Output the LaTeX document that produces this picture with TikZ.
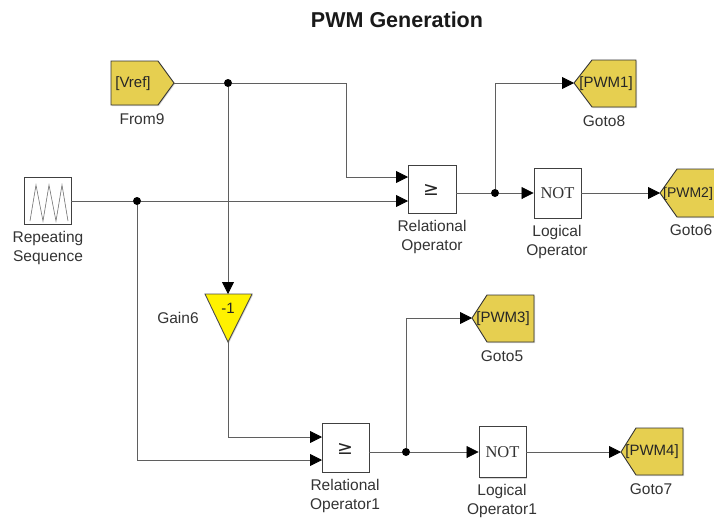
\documentclass[tikz,border=0pt]{standalone}
\usepackage{fontspec}
\setmainfont{Liberation Sans}
\newfontfamily\notfont{Liberation Serif}
\newfontfamily\symfont{DejaVu Sans}
\usetikzlibrary{arrows.meta, shadows}
\definecolor{tagyellow}{RGB}{230,207,80}
\definecolor{wiregray}{RGB}{95,95,95}
\tikzset{
  wire/.style={draw=wiregray, line width=0.8pt},
  feed/.style={wire, -{Triangle[length=12pt, width=12pt, black]}},
  dot/.style={circle, fill=black, inner sep=0pt, minimum size=8pt},
  block/.style={draw=black!75, fill=white, line width=0.9pt, inner sep=0pt,
    drop shadow={shadow xshift=1pt, shadow yshift=-1pt, fill=black!30}},
  tagshape/.style={draw=black!80, fill=tagyellow, line width=0.9pt,
    drop shadow={shadow xshift=1pt, shadow yshift=-1pt, fill=black!30}},
  tagtext/.style={font=\fontsize{15}{15}\selectfont, text=black!85, inner sep=0pt},
  caption/.style={font=\fontsize{15.5}{19}\selectfont, text=black!80, align=center, inner sep=0pt},
  notblock/.style={block, font=\fontsize{16.5}{16.5}\selectfont\notfont, text=black!80},
  relsign/.style={font=\fontsize{19}{19}\selectfont\symfont, text=black!85, inner sep=0pt}
}
\begin{document}
\begin{tikzpicture}[x=1pt, y=-1pt]
  \useasboundingbox (0,0) rectangle (714,517);
  \clip (0,0) rectangle (714,517);

  \node[font=\bfseries\fontsize{21.5}{22}\selectfont, text=black!90] (title) at (397,20) {PWM Generation};

  % tags
  \draw[tagshape] (111,61) -- (158,61) -- (174,83) -- (158,105) -- (111,105) -- cycle;
  \coordinate (vrefout) at (174,83);
  \node[tagtext] (vref) at (133,84) {[Vref]};
  \node[caption] (from9) at (142,119) {From9};

  \draw[tagshape] (574,83) -- (592,60) -- (636,60) -- (636,107) -- (592,107) -- cycle;
  \coordinate (pwm1in) at (574,83);
  \node[tagtext] (pwm1) at (606,84) {[PWM1]};
  \node[caption] (goto8) at (604,121) {Goto8};

  \draw[tagshape] (660,193) -- (677,169) -- (725,169) -- (725,217) -- (677,217) -- cycle;
  \coordinate (pwm2in) at (660,193);
  \node[tagtext, font=\fontsize{14}{14}\selectfont] (pwm2) at (688,194) {[PWM2]};
  \node[caption] (goto6) at (691,230) {Goto6};

  \draw[tagshape] (472,318) -- (487,295) -- (534,295) -- (534,342) -- (487,342) -- cycle;
  \coordinate (pwm3in) at (472,318);
  \node[tagtext] (pwm3) at (503,319) {[PWM3]};
  \node[caption] (goto5) at (502,356) {Goto5};

  \draw[tagshape] (621,452) -- (636,428) -- (683,428) -- (683,475) -- (636,475) -- cycle;
  \coordinate (pwm4in) at (621,452);
  \node[tagtext] (pwm4) at (652,452) {[PWM4]};
  \node[caption] (goto7) at (651,489) {Goto7};

  % blocks
  \node[block, minimum width=47pt, minimum height=47pt] (rep) at (47.5,200.5) {};
  \draw[black!55, line width=0.6pt] (30,221) -- (36,185) -- (43,221) -- (49,185) -- (56,221) -- (62,185) -- (68,221);
  \node[caption] (repname) at (48,248) {Repeating\\Sequence};

  \node[block, minimum width=48pt, minimum height=48pt] (relop) at (432,189) {};
  \node[relsign] (relsym) at (431,190) {≥};
  \node[caption] (relname) at (432,237) {Relational\\Operator};

  \node[notblock, minimum width=47pt, minimum height=50pt] (notop) at (557.5,193) {NOT};
  \node[caption] (notname) at (557,242) {Logical\\Operator};

  \node[block, minimum width=47pt, minimum height=49pt] (relop1) at (345.5,447.5) {};
  \node[relsign] (rel1sym) at (345,449) {≥};
  \node[caption] (rel1name) at (345,496) {Relational\\Operator1};

  \node[notblock, minimum width=47pt, minimum height=51pt] (notop1) at (502.5,452) {NOT};
  \node[caption] (not1name) at (502,501) {Logical\\Operator1};

  % gain
  \draw[draw=black!70, fill=yellow, line width=0.9pt, drop shadow={shadow xshift=1pt, shadow yshift=-1pt, fill=black!30}]
    (205,294) -- (252,294) -- (228,342) -- cycle;
  \coordinate (gainin) at (228,294);
  \coordinate (gainout) at (228,342);
  \node[tagtext] (gainval) at (228,308) {-1};
  \node[caption] (gainname) at (178,318) {Gain6};

  % junctions
  \node[dot] (j1) at (228,83) {};
  \node[dot] (j2) at (137,201) {};
  \node[dot] (j3) at (495,193) {};
  \node[dot] (j4) at (406,452) {};

  % wires
  \coordinate (relin1) at (408,177);
  \coordinate (relin2) at (408,201);
  \coordinate (rel1in1) at (322,437);
  \coordinate (rel1in2) at (322,460);
  \draw[wire] (vrefout) -- (j1);
  \draw[feed] (j1) -| (346,177) -- (relin1);
  \draw[feed] (j1) -- (gainin);
  \draw[wire] (rep.east |- j2) -- (j2);
  \draw[feed] (j2) -- (relin2);
  \draw[feed] (j2) |- (rel1in2);
  \draw[feed] (gainout) |- (rel1in1);
  \draw[wire] (relop.east |- j3) -- (j3);
  \draw[feed] (j3) |- (pwm1in);
  \draw[feed] (j3) -- (notop.west);
  \draw[feed] (notop.east) -- (pwm2in);
  \draw[wire] (relop1.east |- j4) -- (j4);
  \draw[feed] (j4) |- (pwm3in);
  \draw[feed] (j4) -- (notop1.west);
  \draw[feed] (notop1.east) -- (pwm4in);
\end{tikzpicture}
\end{document}
